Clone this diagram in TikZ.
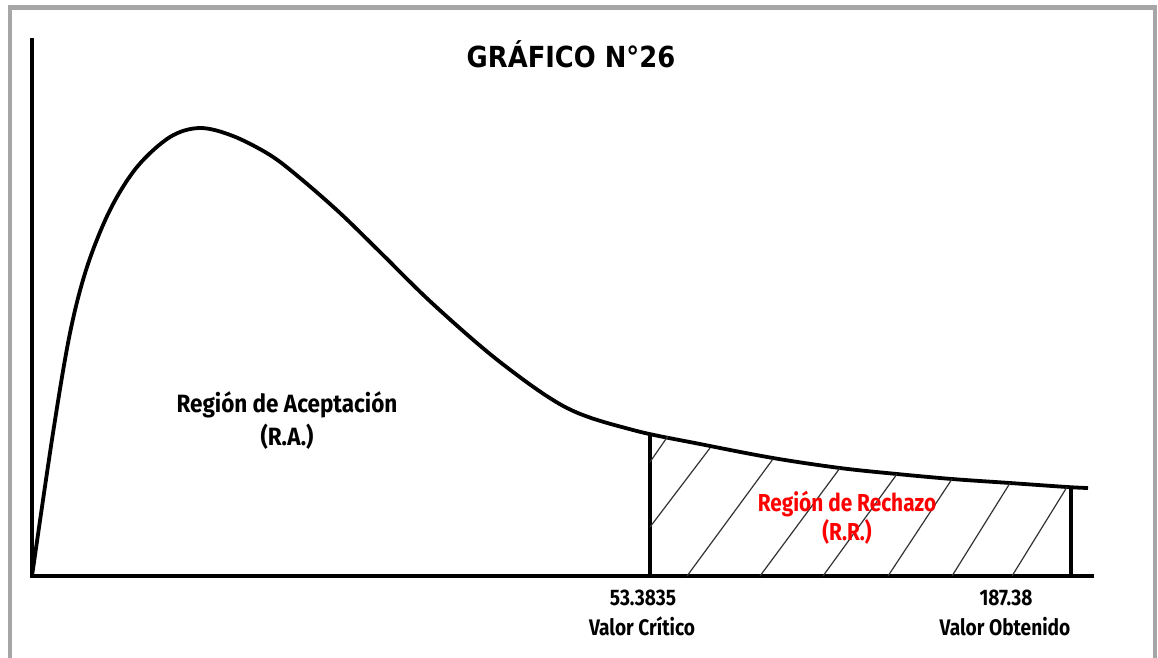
\documentclass[tikz,border=0pt]{standalone}
\usepackage{fontspec}
\setmainfont{Liberation Sans}
\newfontfamily\cond[FakeStretch=0.85]{Fira Sans}
\newfontfamily\condw[FakeStretch=0.9]{Fira Sans}
\newfontfamily\titlefont[FakeStretch=0.89]{DejaVu Sans}
\definecolor{framegray}{HTML}{A6A6A6}
\definecolor{rrred}{HTML}{FF0000}
\tikzset{
  axisline/.style={line width=3.8pt, line cap=rect},
  curveline/.style={line width=3.8pt},
  boundline/.style={line width=3.6pt},
  hatchline/.style={line width=1.2pt, black!80},
  lbl/.style={font=\condw\bfseries\fontsize{25}{32}\selectfont, align=center, inner sep=0pt},
  small/.style={font=\cond\bfseries\fontsize{22.5}{30}\selectfont},
  redlbl/.style={text=rrred, font=\cond\bfseries\fontsize{24.5}{30}\selectfont},
  frameline/.style={draw=framegray, line width=4.5pt}
}
\begin{document}
\begin{tikzpicture}[x=1pt,y=-1pt]
\useasboundingbox (0,0) rectangle (1158,657);
\fill[white] (0,0) rectangle (1158,657);
% frame
\draw[frameline] (10,660) -- (10,7.5) -- (1155,7.5) -- (1155,660);
% axes
\coordinate (O) at (32,576);
\coordinate (ytop) at (32,40);
\coordinate (xend) at (1092,576);
\draw[axisline] (ytop) -- (O) -- (xend);
% curve
\draw[curveline, line join=round] plot[smooth, tension=0.55] coordinates {
 (32,576) (53,433) (70,333) (87,267) (110,210) (137,167) (170,137) (200,128)
 (233,136) (270,155) (300,178) (340,213) (380,252) (433,304) (500,362) (567,408)
 (633,430) (700,444) (773,458) (840,468) (897,474) (952,479) (1010,483) (1067,487) (1088,488)};
% boundaries of rejection region
\coordinate (vcb) at (650,576);
\coordinate (vct) at (650,433);
\coordinate (vob) at (1071,576);
\coordinate (vot) at (1071,486);
\draw[boundline] (vcb) -- (vct);
\draw[boundline] (vob) -- (vot);
% hatching
\foreach \ax/\ay/\bx/\by in {650/462/668/436, 650/527/710/448, 687/576/773/459,
  760/576/840/468, 823/576/897/474, 888/576/952/479, 952/576/1010/483, 1012/576/1067/487}
  \draw[hatchline] (\ax,\ay) -- (\bx,\by);
% texts
\node[font=\titlefont\bfseries\fontsize{29}{34}\selectfont, anchor=base] (title) at (571,67) {GRÁFICO N°26};
\node[lbl, anchor=base] (ra1) at (287,412) {Región de Aceptación};
\node[lbl, anchor=base] (ra2) at (287,445) {(R.A.)};
\node[lbl, anchor=base, redlbl] (rr1) at (847,511) {Región de Rechazo};
\node[lbl, anchor=base, redlbl] (rr2) at (847,540) {(R.R.)};
\node[lbl, anchor=base, small] (vc1) at (643,605) {53.3835};
\node[lbl, anchor=base, small] (vc2) at (642,635) {Valor Crítico};
\node[lbl, anchor=base, small] (vo1) at (1006,605) {187.38};
\node[lbl, anchor=base, small] (vo2) at (1005,635) {Valor Obtenido};
\end{tikzpicture}
\end{document}
